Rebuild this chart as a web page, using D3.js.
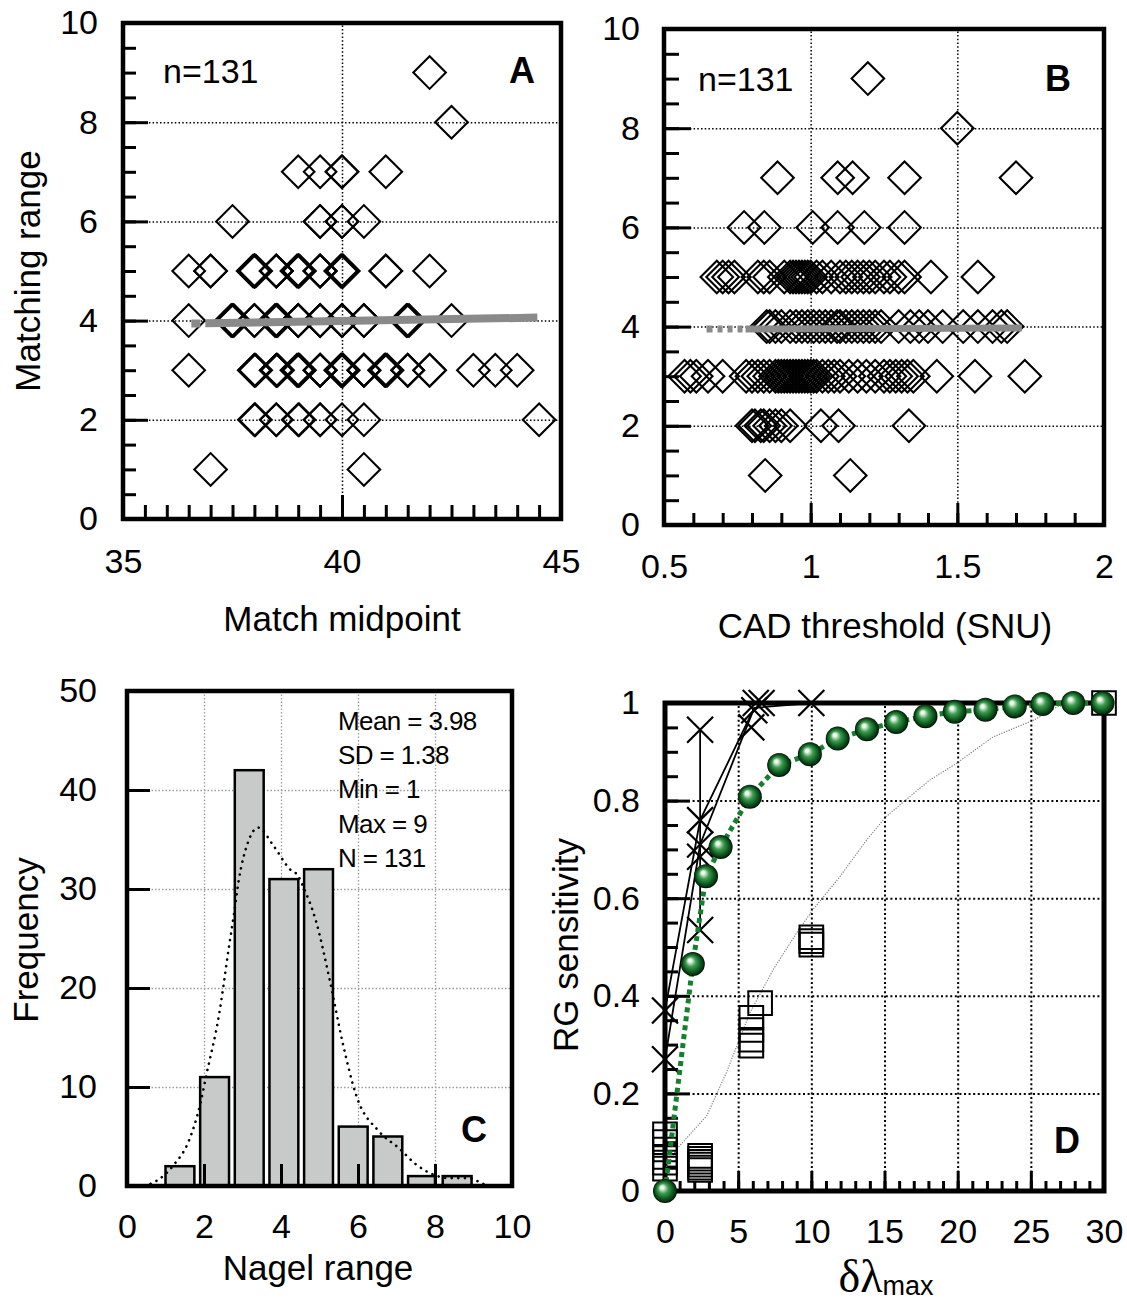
<!DOCTYPE html>
<html><head><meta charset="utf-8">
<script src="https://cdn.jsdelivr.net/npm/d3@7"></script>
<style>
body{margin:0;background:#fff}
svg{display:block}
text{font-family:"Liberation Sans",Arial,Helvetica,sans-serif;fill:#000}
</style>
</head><body>
<svg id="chart" width="1127" height="1302"></svg>
<script>
// ================= DATA =================
// Panel A: match midpoint (x) per matching-range row (y = 1..9)
const rangeLevels = [1, 2, 3, 4, 5, 6, 7, 8, 9];
const aRow1 = [37.0, 40.5];
const aRow2 = [38.0, 38.02, 38.5, 38.5, 39.0, 39.02, 39.5, 39.5, 40.0, 40.5, 44.5];
const aRow3 = [36.5, 38.0, 38.0, 38.03, 38.5, 38.5, 38.5, 38.53, 39.0, 39.0, 38.97, 39.03, 39.0, 39.0,
               39.5, 39.5, 39.5, 39.5, 40.0, 40.03, 39.97, 40.0, 40.0, 40.0, 40.0, 40.5, 40.5, 40.5, 40.5,
               41.0, 41.03, 40.97, 41.0, 41.0, 41.5, 41.5, 41.5, 42.0, 42.0, 43.0, 43.5, 44.0];
const aRow4 = [36.5, 37.5, 37.53, 37.47, 38.0, 38.0, 38.0, 38.5, 38.53, 38.47, 38.5, 39.0, 39.0, 39.0, 39.0,
               39.5, 39.5, 39.5, 39.5, 40.0, 40.0, 40.0, 40.0, 40.0, 40.5, 40.5, 40.5, 41.5, 41.53, 41.47, 42.5];
const aRow5 = [36.5, 37.0, 37.0, 38.0, 38.03, 37.97, 38.0, 38.0, 38.0, 38.5, 38.5, 38.5, 38.5,
               39.0, 39.03, 38.97, 39.0, 39.0, 39.0, 39.5, 39.5, 39.5, 39.5, 40.0, 40.03, 39.97, 40.0, 40.0, 40.0,
               41.0, 41.0, 42.0];
const aRow6 = [37.5, 39.5, 39.5, 40.0, 40.0, 40.5];
const aRow7 = [39.0, 39.5, 40.0, 40.0, 41.0];
const aRow8 = [42.5];
const aRow9 = [42.0];
const aFitX = [36.56, 44.46];
const aFitY = [3.94, 4.06];

// Panel B: CAD threshold (x) per matching-range row
const bRow1 = [0.845, 1.135];
const bRow2 = [0.80, 0.81, 0.83, 0.84, 0.86, 0.88, 0.90, 0.93, 1.035, 1.095, 1.335];
const bRow3 = [0.57, 0.59, 0.61, 0.65, 0.70, 0.78, 0.80, 0.82, 0.84, 0.86, 0.88, 0.89, 0.90, 0.91, 0.92,
               0.93, 0.94, 0.95, 0.96, 0.97, 0.98, 0.99, 1.00, 1.01, 1.02, 1.04, 1.06, 1.08, 1.10, 1.13,
               1.16, 1.19, 1.22, 1.25, 1.27, 1.29, 1.31, 1.33, 1.35, 1.43, 1.56, 1.73];
const bRow4 = [0.85, 0.86, 0.88, 0.90, 0.93, 0.95, 0.97, 0.99, 1.01, 1.03, 1.05, 1.07, 1.09, 1.10, 1.12, 1.14,
               1.16, 1.18, 1.20, 1.22, 1.24, 1.30, 1.34, 1.37, 1.40, 1.45, 1.52, 1.57, 1.62, 1.65, 1.67];
const bRow5 = [0.68, 0.70, 0.72, 0.74, 0.82, 0.84, 0.86, 0.91, 0.93, 0.94, 0.95, 0.96, 0.97, 0.98, 0.99, 1.00,
               1.02, 1.04, 1.07, 1.10, 1.12, 1.14, 1.16, 1.18, 1.20, 1.22, 1.25, 1.27, 1.30, 1.32, 1.41, 1.57];
const bRow6 = [0.773, 0.842, 1.007, 1.092, 1.183, 1.32];
const bRow7 = [0.887, 1.092, 1.143, 1.32, 1.70];
const bRow8 = [1.50];
const bRow9 = [1.195];
const bFitX = [0.645, 1.72];
const bFitY = [3.95, 3.97];

// Panel C: Nagel range histogram
const nagelBinLo = [1.0, 1.9, 2.8, 3.7, 4.6, 5.5, 6.4, 7.3, 8.2];
const nagelBinHi = [1.75, 2.65, 3.55, 4.45, 5.35, 6.25, 7.15, 8.0, 8.95];
const nagelCounts = [2, 11, 42, 31, 32, 6, 5, 1, 1];
const fitCurveX = [0.45, 0.8, 1.23, 1.6, 1.91, 2.05, 2.4, 2.65, 2.78, 2.9, 3.15, 3.41, 3.8, 4.23, 4.45, 4.57,
                   4.92, 5.26, 5.6, 5.95, 6.55, 7.07, 7.5, 7.93, 8.36, 8.9, 9.2, 9.4];
const fitCurveY = [0, 0.6, 2.2, 4.5, 8.4, 11, 17.5, 24.2, 27.5, 30.8, 34.8, 36.2, 34.4, 32, 31.3, 30.3,
                   26.6, 20.9, 14.5, 9.2, 5.5, 3.8, 2.2, 1.2, 0.8, 0.8, 0.3, 0];
const statLines = ["Mean = 3.98", "SD = 1.38", "Min = 1", "Max = 9", "N = 131"];

// Panel D: RG sensitivity vs delta-lambda max
const greenX = [0, 1.9, 2.8, 3.8, 5.8, 7.8, 9.9, 11.8, 13.8, 15.8, 17.8, 19.8, 21.9, 23.9, 25.8, 27.9, 29.9];
const greenY = [0.0, 0.465, 0.645, 0.705, 0.808, 0.873, 0.895, 0.927, 0.946, 0.961, 0.973, 0.982, 0.986, 0.993, 0.998, 1.0, 1.0];
const crossX = [0, 0, 2.4, 2.4, 2.4, 2.4, 2.4, 5.9, 6.1, 6.2, 6.6, 10];
const crossY = [0.37, 0.27, 0.945, 0.76, 0.71, 0.685, 0.535, 0.95, 0.985, 1.0, 1.0, 1.0];
const line1X = [0, 2.4, 6.1, 10, 30];
const line1Y = [0.27, 0.71, 0.99, 1.0, 1.0];
const line2X = [0, 2.4, 6.1];
const line2Y = [0.37, 0.76, 0.99];
const rangeBarX = [2.4, 2.4];
const rangeBarY = [0.535, 0.945];
const squareX = [0, 0, 0, 0, 0, 0, 2.4, 2.4, 2.4, 2.4, 2.4, 2.4, 5.9, 5.9, 5.9, 5.9, 6.5, 10, 10, 10, 30];
const squareY = [0.116, 0.10, 0.085, 0.07, 0.058, 0.046, 0.072, 0.066, 0.06, 0.054, 0.048, 0.043,
                 0.355, 0.33, 0.31, 0.298, 0.385, 0.52, 0.512, 0.505, 1.0];
const grayX = [0, 0.8, 2.85, 4.2, 5.8, 7.4, 9.0, 10.1, 11.95, 13.8, 15.1, 17, 18.1, 19.9, 22.4, 25.2, 26.8, 27.9, 30];
const grayY = [0.045, 0.086, 0.154, 0.243, 0.365, 0.454, 0.529, 0.576, 0.644, 0.72, 0.767, 0.815, 0.842, 0.876, 0.93, 0.965, 0.992, 1.0, 1.0];

// Tick values
const ticksAx = [35, 40, 45], ticksAy = [0, 2, 4, 6, 8, 10];
const ticksBx = [0.5, 1, 1.5, 2], ticksBy = [0, 2, 4, 6, 8, 10];
const ticksCx = [0, 2, 4, 6, 8, 10], ticksCy = [0, 10, 20, 30, 40, 50];
const ticksDx = [0, 5, 10, 15, 20, 25, 30], ticksDy = [0, 0.2, 0.4, 0.6, 0.8, 1];

// ================= DRAWING =================
const svg = d3.select("#chart");
const defs = svg.append("defs");
const grad = defs.append("radialGradient").attr("id", "sphere")
  .attr("cx", "0.5").attr("cy", "0.5").attr("r", "0.5").attr("fx", "0.36").attr("fy", "0.33");
[[0, "#ffffff"], [0.14, "#eaf6ea"], [0.42, "#3f9c4f"], [0.72, "#0f5f22"], [0.92, "#05300e"], [1, "#000000"]]
  .forEach(([o, c]) => grad.append("stop").attr("offset", o).attr("stop-color", c));

const FONT = "'Liberation Sans', Arial, Helvetica, sans-serif";
const range = (a, b, s) => d3.range(a, b + s / 2, s).map(v => +v.toFixed(4));

function panel(cfg) {
  const { x, y } = cfg;
  const [x0, x1] = x.range();
  const [yb, yt] = y.range();
  const g = svg.append("g");
  // gridlines
  g.append("g").attr("transform", `translate(${x0},0)`)
    .call(d3.axisLeft(y).tickValues(cfg.gridY).tickSize(-(x1 - x0)).tickFormat(""))
    .call(s => s.select(".domain").remove())
    .selectAll("line").attr("stroke", cfg.gridColor).attr("stroke-width", cfg.gridW).attr("stroke-dasharray", cfg.gridDash);
  g.append("g").attr("transform", `translate(0,${yb})`)
    .call(d3.axisBottom(x).tickValues(cfg.gridX).tickSize(-(yb - yt)).tickFormat(""))
    .call(s => s.select(".domain").remove())
    .selectAll("line").attr("stroke", cfg.gridColor).attr("stroke-width", cfg.gridW).attr("stroke-dasharray", cfg.gridDash);
  // inside ticks
  const tk = (axis, tr) => g.append("g").attr("transform", tr).call(axis)
    .call(s => s.select(".domain").remove())
    .selectAll("line").attr("stroke", "#000").attr("stroke-width", 3);
  if (cfg.minorY) tk(d3.axisLeft(y).tickValues(cfg.minorY).tickSize(-cfg.minorLenY).tickFormat(""), `translate(${x0},0)`);
  tk(d3.axisLeft(y).tickValues(cfg.majorY).tickSize(-cfg.majorLenY).tickFormat(""), `translate(${x0},0)`);
  if (cfg.minorX) tk(d3.axisBottom(x).tickValues(cfg.minorX).tickSize(-cfg.minorLenX).tickFormat(""), `translate(0,${yb})`);
  tk(d3.axisBottom(x).tickValues(cfg.majorX).tickSize(-cfg.majorLenX).tickFormat(""), `translate(0,${yb})`);
  // tick labels
  g.append("g").attr("transform", `translate(${x0},0)`)
    .call(d3.axisLeft(y).tickValues(cfg.labY).tickSize(0).tickPadding(cfg.padY).tickFormat(d => String(d)))
    .call(s => s.select(".domain").remove())
    .attr("font-family", FONT).attr("font-size", 34)
    .selectAll("text").attr("fill", "#000");
  g.append("g").attr("transform", `translate(0,${yb})`)
    .call(d3.axisBottom(x).tickValues(cfg.labX).tickSize(0).tickFormat(d => String(d)))
    .call(s => s.select(".domain").remove())
    .attr("font-family", FONT).attr("font-size", 34)
    .selectAll("text").attr("fill", "#000").attr("dy", null).attr("y", cfg.padX);
  return g;
}

function frame(g, x, y, w) {
  const [x0, x1] = x.range();
  const [yb, yt] = y.range();
  g.append("rect").attr("x", x0).attr("y", yt).attr("width", x1 - x0).attr("height", yb - yt)
    .attr("fill", "none").attr("stroke", "#000").attr("stroke-width", w);
}

const diamond = d3.symbol().type(d3.symbolSquare).size(530)();
function diamonds(g, x, y, rows) {
  const pts = [];
  rows.forEach((r, i) => r.forEach(v => pts.push({ x: v, y: rangeLevels[i] })));
  g.append("g").selectAll("path").data(pts).join("path")
    .attr("d", diamond)
    .attr("transform", d => `translate(${x(d.x)},${y(d.y)}) rotate(45)`)
    .attr("fill", "none").attr("stroke", "#000").attr("stroke-width", 2.1);
}

// ---------- Panel A ----------
const xA = d3.scaleLinear().domain([35, 45]).range([123, 561]);
const yA = d3.scaleLinear().domain([0, 10]).range([519, 23]);
const gA = panel({
  x: xA, y: yA, gridX: [40], gridY: [2, 4, 6, 8], gridColor: "#000", gridW: 1.5, gridDash: "1.5,2.2",
  minorY: range(0, 10, 0.5), minorLenY: 13, majorY: ticksAy, majorLenY: 25,
  minorX: range(35, 45, 0.5), minorLenX: 14, majorX: ticksAx, majorLenX: 24,
  labY: ticksAy, padY: 25, labX: ticksAx, padX: 54
});
frame(gA, xA, yA, 4.5);
diamonds(gA, xA, yA, [aRow1, aRow2, aRow3, aRow4, aRow5, aRow6, aRow7, aRow8, aRow9]);
gA.append("path").datum(aFitX.map((v, i) => [v, aFitY[i]]))
  .attr("d", d3.line().x(d => xA(d[0])).y(d => yA(d[1])))
  .attr("stroke", "#8a8a8a").attr("stroke-width", 8).attr("fill", "none")
  .attr("stroke-dasharray", "9,5,2000");
gA.append("text").attr("x", 163).attr("y", 83).attr("font-size", 34).text("n=131");
gA.append("text").attr("x", 522).attr("y", 83).attr("font-size", 36).attr("font-weight", "bold").attr("text-anchor", "middle").text("A");
gA.append("text").attr("transform", "translate(40,271) rotate(-90)").attr("text-anchor", "middle").attr("font-size", 35).text("Matching range");
gA.append("text").attr("x", 342).attr("y", 631).attr("text-anchor", "middle").attr("font-size", 35).text("Match midpoint");

// ---------- Panel B ----------
const xB = d3.scaleLinear().domain([0.5, 2]).range([664, 1104]);
const yB = d3.scaleLinear().domain([0, 10]).range([525, 29]);
const gB = panel({
  x: xB, y: yB, gridX: [1, 1.5], gridY: [2, 4, 6, 8], gridColor: "#000", gridW: 1.5, gridDash: "1.5,2.2",
  minorY: range(0, 10, 0.5), minorLenY: 15, majorY: ticksBy, majorLenY: 27,
  minorX: range(0.5, 2, 0.1), minorLenX: 12, majorX: ticksBx, majorLenX: 22,
  labY: ticksBy, padY: 24, labX: ticksBx, padX: 53
});
frame(gB, xB, yB, 4.5);
diamonds(gB, xB, yB, [bRow1, bRow2, bRow3, bRow4, bRow5, bRow6, bRow7, bRow8, bRow9]);
gB.append("path").datum(bFitX.map((v, i) => [v, bFitY[i]]))
  .attr("d", d3.line().x(d => xB(d[0])).y(d => yB(d[1])))
  .attr("stroke", "#8a8a8a").attr("stroke-width", 7).attr("fill", "none")
  .attr("stroke-dasharray", "6,5,5,5,5,5,5,3,2000");
gB.append("text").attr("x", 698).attr("y", 91).attr("font-size", 34).text("n=131");
gB.append("text").attr("x", 1058).attr("y", 91).attr("font-size", 36).attr("font-weight", "bold").attr("text-anchor", "middle").text("B");
gB.append("text").attr("x", 885).attr("y", 638).attr("text-anchor", "middle").attr("font-size", 35).text("CAD threshold (SNU)");

// ---------- Panel C ----------
const xC = d3.scaleLinear().domain([0, 10]).range([127, 512]);
const yC = d3.scaleLinear().domain([0, 50]).range([1186, 691]);
const gC = panel({
  x: xC, y: yC, gridX: [2, 4, 6, 8], gridY: [10, 20, 30, 40], gridColor: "#9a9a9a", gridW: 1.3, gridDash: "1.5,2",
  majorY: [10, 20, 30, 40], majorLenY: 23, majorX: [2, 4, 6, 8], majorLenX: 22,
  labY: ticksCy, padY: 30, labX: ticksCx, padX: 52
});
gC.append("g").selectAll("rect").data(nagelCounts).join("rect")
  .attr("x", (d, i) => xC(nagelBinLo[i])).attr("width", (d, i) => xC(nagelBinHi[i]) - xC(nagelBinLo[i]))
  .attr("y", d => yC(d)).attr("height", d => yC(0) - yC(d))
  .attr("fill", "#c8c9c9").attr("stroke", "#000").attr("stroke-width", 2.5);
// re-draw bottom ticks above bars
gC.append("g").attr("transform", `translate(0,${yC(0)})`)
  .call(d3.axisBottom(xC).tickValues([2, 4, 6, 8]).tickSize(-22).tickFormat(""))
  .call(s => s.select(".domain").remove())
  .selectAll("line").attr("stroke", "#000").attr("stroke-width", 3);
frame(gC, xC, yC, 4.5);
gC.append("path").datum(fitCurveX.map((v, i) => [v, fitCurveY[i]]))
  .attr("d", d3.line().x(d => xC(d[0])).y(d => yC(d[1])).curve(d3.curveMonotoneX))
  .attr("fill", "none").attr("stroke", "#000").attr("stroke-width", 2.6)
  .attr("stroke-linecap", "round").attr("stroke-dasharray", "0.1,6.5");
gC.append("g").selectAll("text").data(statLines).join("text")
  .attr("x", 338).attr("y", (d, i) => 730 + i * 34.2)
  .attr("font-size", 26).attr("letter-spacing", -0.6).text(d => d);
gC.append("text").attr("x", 474).attr("y", 1142).attr("font-size", 36).attr("font-weight", "bold").attr("text-anchor", "middle").text("C");
gC.append("text").attr("transform", "translate(38,940) rotate(-90)").attr("text-anchor", "middle").attr("font-size", 35).text("Frequency");
gC.append("text").attr("x", 318).attr("y", 1280).attr("text-anchor", "middle").attr("font-size", 35).text("Nagel range");

// ---------- Panel D ----------
const xD = d3.scaleLinear().domain([0, 30]).range([665, 1104]);
const yD = d3.scaleLinear().domain([0, 1]).range([1191, 703]);
const gD = panel({
  x: xD, y: yD, gridX: [5, 10, 15, 20, 25], gridY: [0.2, 0.4, 0.6, 0.8], gridColor: "#000", gridW: 2, gridDash: "2,2.6",
  minorY: range(0, 1, 0.05), minorLenY: 13, majorY: ticksDy, majorLenY: 25,
  minorX: range(0, 30, 1), minorLenX: 10, majorX: ticksDx, majorLenX: 20,
  labY: ticksDy, padY: 25, labX: ticksDx, padX: 52
});
frame(gD, xD, yD, 5);
const lineD = d3.line().x(d => xD(d[0])).y(d => yD(d[1]));
const zipD = (a, b) => a.map((v, i) => [v, b[i]]);
gD.append("path").datum(zipD(grayX, grayY)).attr("d", lineD)
  .attr("fill", "none").attr("stroke", "#777").attr("stroke-width", 1.1).attr("stroke-dasharray", "1.2,1.4");
[[line1X, line1Y], [line2X, line2Y], [rangeBarX, rangeBarY]].forEach(([a, b]) =>
  gD.append("path").datum(zipD(a, b)).attr("d", lineD)
    .attr("fill", "none").attr("stroke", "#000").attr("stroke-width", 1.8));
const sq = d3.symbol().type(d3.symbolSquare).size(560)();
gD.append("g").selectAll("path").data(zipD(squareX, squareY)).join("path")
  .attr("d", sq).attr("transform", d => `translate(${xD(d[0])},${yD(d[1])})`)
  .attr("fill", "none").attr("stroke", "#000").attr("stroke-width", 2);
gD.append("g").selectAll("path").data(zipD(crossX, crossY)).join("path")
  .attr("d", "M-13,-13L13,13M-13,13L13,-13").attr("transform", d => `translate(${xD(d[0])},${yD(d[1])})`)
  .attr("fill", "none").attr("stroke", "#000").attr("stroke-width", 2.2);
gD.append("path").datum(zipD(greenX, greenY)).attr("d", lineD)
  .attr("fill", "none").attr("stroke", "#13802c").attr("stroke-width", 5).attr("stroke-dasharray", "5,4");
gD.append("g").selectAll("circle").data(zipD(greenX, greenY)).join("circle")
  .attr("cx", d => xD(d[0])).attr("cy", d => yD(d[1])).attr("r", 12)
  .attr("fill", "url(#sphere)");
gD.append("text").attr("x", 1067).attr("y", 1153).attr("font-size", 36).attr("font-weight", "bold").attr("text-anchor", "middle").text("D");
gD.append("text").attr("transform", "translate(578,945) rotate(-90)").attr("text-anchor", "middle").attr("font-size", 35).text("RG sensitivity");
const xt = gD.append("text").attr("x", 886).attr("y", 1292).attr("text-anchor", "middle");
xt.append("tspan").attr("font-family", "'Liberation Serif', 'DejaVu Serif', serif").attr("font-size", 46).text("δλ");
xt.append("tspan").attr("font-size", 27).attr("dy", 3).text("max");
</script>
</body></html>
